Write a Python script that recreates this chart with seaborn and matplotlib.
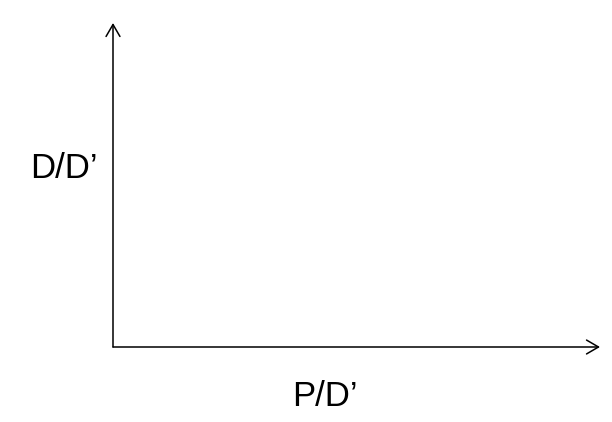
import matplotlib
matplotlib.use("Agg")
import matplotlib.pyplot as plt
import seaborn as sns

x_label = "P/D’"
y_label = "D/D’"
x_values = []
y_values = []

sns.set_style("white")
plt.rcParams['font.family'] = ['Liberation Sans', 'DejaVu Sans']

fig = plt.figure(figsize=(6.12, 4.22), dpi=100)
ax = fig.add_axes([113/612, 75/422, (600-113)/612, (399-75)/422])
sns.lineplot(x=x_values, y=y_values, ax=ax)
ax.set_xlim(0, 1)
ax.set_ylim(0, 1)
for s in ax.spines.values():
    s.set_visible(False)
ax.set_xticks([])
ax.set_yticks([])
ax.patch.set_alpha(0)

style = "->,head_length=0.86,head_width=0.5"
ax.annotate("", xy=(1, 0), xytext=(0, 0), xycoords="axes fraction",
            arrowprops=dict(arrowstyle=style, lw=1.1, color="black",
                            shrinkA=0, shrinkB=0, mutation_scale=10))
ax.annotate("", xy=(0, 1), xytext=(0, 0), xycoords="axes fraction",
            arrowprops=dict(arrowstyle=style, lw=1.1, color="black",
                            shrinkA=0, shrinkB=0, mutation_scale=10))

fig.text(64/612, 1 - 178/422, y_label, ha="center", va="baseline",
         fontsize=25, color="black")
fig.text(325/612, 1 - 406/422, x_label, ha="center", va="baseline",
         fontsize=25, color="black")

fig.savefig("out.png", dpi=100)
